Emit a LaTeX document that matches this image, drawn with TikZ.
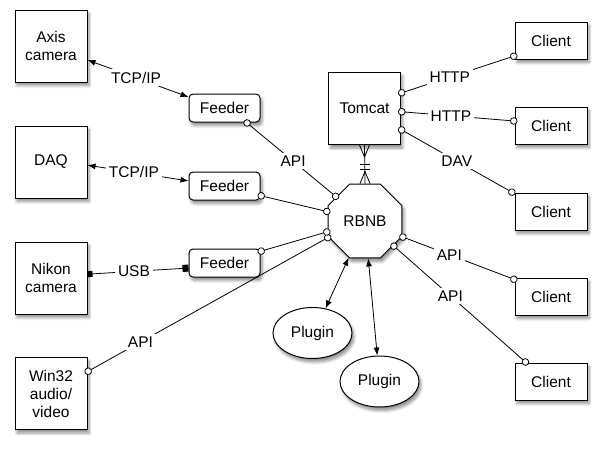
\documentclass[tikz,border=0pt]{standalone}
\usepackage{fontspec}
\setmainfont{Liberation Sans}
\usetikzlibrary{shapes.geometric,arrows.meta,shadows.blur,calc}
\begin{document}
\begin{tikzpicture}[x=1pt,y=-1pt,
  every node/.style={font=\fontsize{15.5}{18}\selectfont},
  shad/.style={blur shadow={shadow xshift=2pt,shadow yshift=-3.5pt,shadow opacity=45,shadow blur radius=3pt,shadow blur steps=6}},
  bigbox/.style={draw,line width=1pt,fill=white,shad,minimum width=72pt,minimum height=72pt,inner sep=1pt,align=center},
  clientbox/.style={draw,line width=1pt,fill=white,shad,minimum width=72pt,minimum height=37pt,inner sep=1pt},
  feederbox/.style={draw,line width=1pt,fill=white,shad,rounded corners=4pt,minimum width=71pt,minimum height=28pt,inner sep=1pt},
  octa/.style={draw,line width=1pt,fill=white,shad,regular polygon,regular polygon sides=8,minimum size=80pt,inner sep=0pt},
  plug/.style={draw,line width=1pt,fill=white,shad,ellipse,minimum width=79pt,minimum height=51pt,inner sep=0pt},
  conn/.style={line width=0.8pt},
  lbl/.style={fill=white,inner sep=3pt},
  oo/.style={conn,{Circle[open,length=7.5pt,width=7.5pt,fill=white]}-{Circle[open,length=7.5pt,width=7.5pt,fill=white]},shorten <=-3pt,shorten >=-3pt},
  aa/.style={conn,{Latex[length=8pt,width=6pt]}-{Latex[length=8pt,width=6pt]}},
  ss/.style={conn,{Square[length=5pt,width=6pt]}-{Square[length=6pt,width=7pt]}}
]
\useasboundingbox (0,0) rectangle (602,450);

% nodes
\node[bigbox] (axis) at (51,46) {Axis\\camera};
\node[bigbox] (daq) at (51,162) {DAQ};
\node[bigbox] (nikon) at (51,278) {Nikon\\camera};
\node[bigbox] (win) at (51,393.5) {Win32\\audio/\\video};

\node[feederbox] (f1) at (224.5,108) {Feeder};
\node[feederbox] (f2) at (224.5,186) {Feeder};
\node[feederbox] (f3) at (224.5,263) {Feeder};

\node[bigbox] (tomcat) at (364.5,108.5) {Tomcat};
\node[octa] (rbnb) at (365,221) {RBNB};

\node[plug] (p1) at (312.5,333) {Plugin};
\node[plug] (p2) at (379.5,381.5) {Plugin};

\node[clientbox] (c1) at (551,40.5) {Client};
\node[clientbox] (c2) at (551,125.5) {Client};
\node[clientbox] (c3) at (551,211.5) {Client};
\node[clientbox] (c4) at (551,296.5) {Client};
\node[clientbox] (c5) at (551,381.5) {Client};

% left side connectors
\draw[aa] (axis.-21) -- node[lbl,pos=0.48] {TCP/IP} (f1.163);
\draw[aa] (daq.-5) -- node[lbl,pos=0.46] {TCP/IP} (f2.172);
\draw[ss] (nikon.6) -- node[lbl,pos=0.46] {USB} (f3.188);
\draw[oo] (win.31) -- node[lbl,pos=0.22] {API} (rbnb.204);
\draw[oo] ($(f1.south east)+(-14,0)$) -- node[lbl,pos=0.52] {API} (rbnb.140);
\draw[oo] (f2.-15) -- (rbnb.166);
\draw[oo] (f3.18) -- (rbnb.196);

% tomcat to clients
\draw[oo] (tomcat.23) -- node[lbl,pos=0.43] {HTTP} (c1.203);
\draw[oo] (tomcat.-5) -- node[lbl,pos=0.44] {HTTP} (c2.173);
\draw[oo] (tomcat.-30) -- node[lbl,pos=0.5] {DAV} ($(c3.north west)+(-2,0)$);

% rbnb to clients
\draw[oo] (rbnb.-23.5) -- node[lbl,pos=0.42] {API} (c4.155);
\draw[oo] (rbnb.-41) -- node[lbl,pos=0.43] {API} ($(c5.north)+(-25,0)$);

% plugins
\draw[aa] (rbnb.-114.7) -- (p1.62.6);
\draw[aa] (rbnb.-85) -- (p2.95);

% tomcat - rbnb crow's foot relation
\coordinate (ta) at (tomcat.south);
\coordinate (rb) at (rbnb.north);
\draw[conn] (ta) -- (rb);
\draw[conn] ($(ta)+(-5,0)$) -- ($(ta)+(0,12)$) -- ($(ta)+(5,0)$);
\draw[conn] ($(ta)+(-5,19)$) -- ($(ta)+(5,19)$);
\draw[conn] ($(rb)+(-5,-14)$) -- ($(rb)+(5,-14)$);
\draw[conn] ($(rb)+(-5,0)$) -- ($(rb)+(0,-12)$) -- ($(rb)+(5,0)$);
\end{tikzpicture}
\end{document}
